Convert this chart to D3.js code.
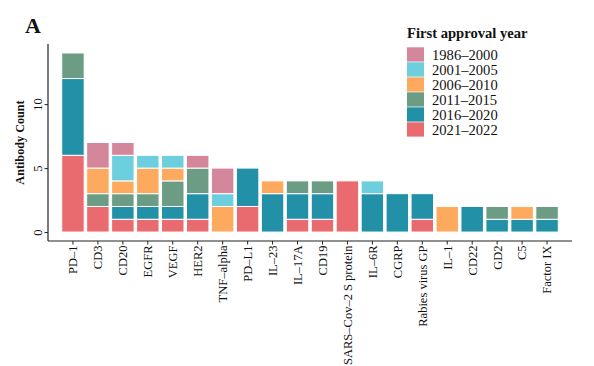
<!DOCTYPE html>
<html>
<head>
<meta charset="utf-8">
<script src="https://cdn.jsdelivr.net/npm/d3@7/dist/d3.min.js"></script>
<style>
  html, body { margin: 0; padding: 0; background: #fff; }
  svg { display: block; }
  text { font-family: "Liberation Serif", "DejaVu Serif", serif; fill: #111; }
</style>
</head>
<body>
<svg id="chart" width="594" height="366"></svg>
<script>
// ---- data ----
const categories = ["PD\u20131", "CD3", "CD20", "EGFR", "VEGF", "HER2", "TNF\u2013alpha", "PD\u2013L1", "IL\u201323", "IL\u201317A", "CD19", "SARS\u2013Cov\u20132 S protein", "IL\u20136R", "CGRP", "Rabies virus GP", "IL\u20131", "CD22", "GD2", "C5", "Factor IX"];
const periods = ["1986\u20132000", "2001\u20132005", "2006\u20132010", "2011\u20132015", "2016\u20132020", "2021\u20132022"];
const colors = ["#D4869A", "#6DCFDD", "#FDAA5E", "#6C9C83", "#2290A6", "#E96B6F"];
// counts per period, aligned with categories
const v1986_2000 = [0, 2, 1, 0, 0, 1, 2, 0, 0, 0, 0, 0, 0, 0, 0, 0, 0, 0, 0, 0];
const v2001_2005 = [0, 0, 2, 1, 1, 0, 1, 0, 0, 0, 0, 0, 1, 0, 0, 0, 0, 0, 0, 0];
const v2006_2010 = [0, 2, 1, 2, 1, 0, 2, 0, 1, 0, 0, 0, 0, 0, 0, 2, 0, 0, 1, 0];
const v2011_2015 = [2, 1, 1, 1, 2, 2, 0, 0, 0, 1, 1, 0, 0, 0, 0, 0, 0, 1, 0, 1];
const v2016_2020 = [6, 0, 1, 1, 1, 2, 0, 3, 3, 2, 2, 0, 3, 3, 2, 0, 2, 1, 1, 1];
const v2021_2022 = [6, 2, 1, 1, 1, 1, 0, 2, 0, 1, 1, 4, 0, 0, 1, 0, 0, 0, 0, 0];
const yTicks = [0, 5, 10];

const seriesValues = [v1986_2000, v2001_2005, v2006_2010, v2011_2015, v2016_2020, v2021_2022];
// stack order bottom -> top: newest at bottom
const stackKeys = periods.slice().reverse();
const table = categories.map((c, i) => {
  const row = { cat: c };
  periods.forEach((p, k) => row[p] = seriesValues[k][i]);
  return row;
});
const color = d3.scaleOrdinal().domain(periods).range(colors);

const svg = d3.select("#chart");
const L = 48, R = 572, T = 44, B = 241;

const x = d3.scaleBand().domain(categories)
  .range([L, R]).paddingInner(0.1).paddingOuter(0.55);
const maxV = d3.max(table, d => d3.sum(periods, p => d[p]));
const y = d3.scaleLinear().domain([-0.05 * maxV, maxV * 1.05]).range([B, T]);

const stacked = d3.stack().keys(stackKeys)(table);

svg.append("g").selectAll("g").data(stacked).join("g")
  .attr("fill", d => color(d.key))
  .selectAll("rect").data(d => d.filter(s => s[1] - s[0] > 0)).join("rect")
  .attr("x", d => x(d.data.cat))
  .attr("width", x.bandwidth())
  .attr("y", d => y(d[1]))
  .attr("height", d => y(d[0]) - y(d[1]))
  .attr("stroke", "#ffffff")
  .attr("stroke-width", 1);

// axes
const yAxis = svg.append("g").attr("transform", `translate(${L},0)`)
  .call(d3.axisLeft(y).tickValues(yTicks).tickSize(3.5));
yAxis.select(".domain").attr("d", `M0,${T}V${B}`).attr("stroke", "#222").attr("stroke-width", 1.2);
yAxis.selectAll(".tick line").attr("stroke", "#222");
yAxis.selectAll(".tick text")
  .attr("font-size", 12.5).attr("fill", "#333")
  .attr("text-anchor", "middle")
  .attr("transform", "rotate(-90)")
  .attr("x", 0).attr("y", -6.5).attr("dy", "0");

const xAxis = svg.append("g").attr("transform", `translate(0,${B})`)
  .call(d3.axisBottom(x).tickSize(3.5));
xAxis.select(".domain").attr("d", `M${L},0H${R}`).attr("stroke", "#222").attr("stroke-width", 1.2);
xAxis.selectAll(".tick line").attr("stroke", "#222");
xAxis.selectAll(".tick text")
  .attr("font-size", 12.5).attr("fill", "#333")
  .attr("transform", "rotate(-90)")
  .attr("text-anchor", "end")
  .attr("x", -4.5).attr("y", 0).attr("dy", "0.35em");

// y label
svg.append("text")
  .attr("transform", `translate(20,${(T + B) / 2}) rotate(-90)`)
  .attr("text-anchor", "middle").attr("dy", "0.35em")
  .attr("font-size", 12.2).attr("font-weight", "bold")
  .text("Antibody Count");

// panel letter
svg.append("text").attr("x", 25).attr("y", 32.5)
  .attr("font-size", 22).attr("font-weight", "bold").text("A");

// legend
const lg = svg.append("g").attr("transform", "translate(407,0)");
lg.append("text").attr("x", 0).attr("y", 38)
  .attr("font-size", 14.6).attr("font-weight", "bold").text("First approval year");
periods.forEach((p, i) => {
  const yy = 47.3 + i * 15;
  lg.append("rect").attr("x", 0).attr("y", yy).attr("width", 17).attr("height", 14.3)
    .attr("fill", color(p));
  lg.append("text").attr("x", 25).attr("y", yy + 7.3).attr("dy", "0.35em")
    .attr("font-size", 14.6).text(p);
});
</script>
</body>
</html>
